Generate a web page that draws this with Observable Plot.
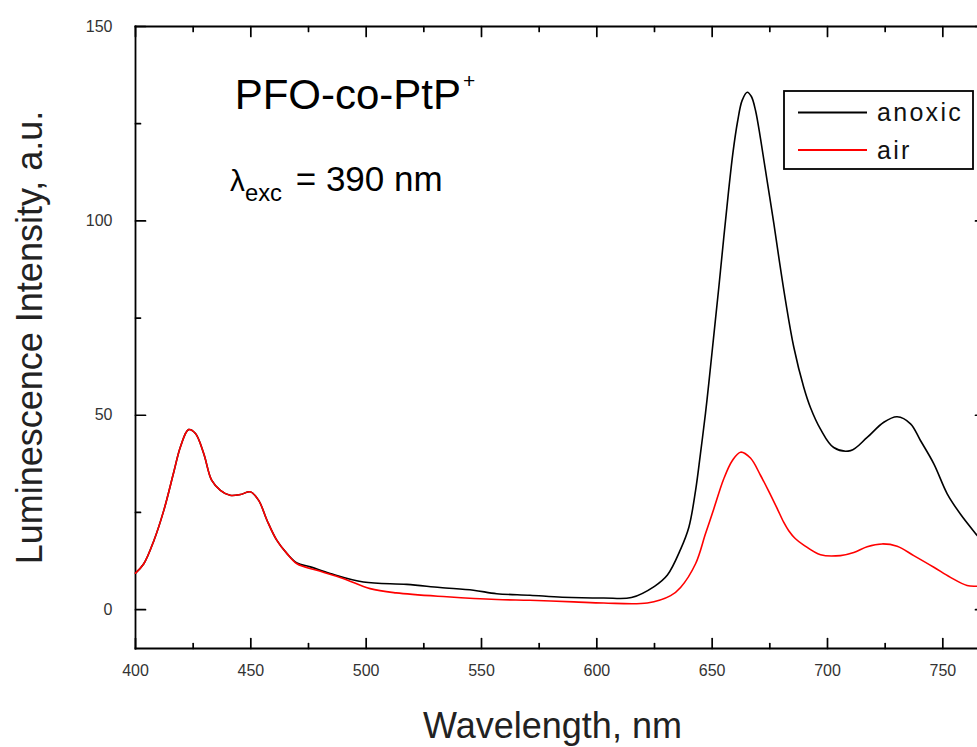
<!DOCTYPE html>
<html><head><meta charset="utf-8">
<script src="https://cdn.jsdelivr.net/npm/d3@7"></script>
<script src="https://cdn.jsdelivr.net/npm/@observablehq/plot@0.6"></script>
<style>
html,body{margin:0;padding:0;background:#fff;overflow:hidden}
#chart{position:relative;width:977px;height:747px;overflow:hidden}
#chart svg{overflow:visible}
#legend{position:absolute;left:0;top:0;pointer-events:none}
</style></head><body><div id="chart"></div>
<script>
// ---- data ----
const anoxicWavelength = [400,403.6,408,412.3,416.6,419.5,423,426,429.6,433,436.8,441,445.5,449.8,453.4,457,461.3,465.7,470,475.8,484.4,498.8,517.6,532,546.5,556.6,571,585,603,615,625,630.6,636.3,639.9,642.8,644.9,647.1,648.5,650.7,652.9,655,657,659,661,663,665.2,667,668.8,671,673.8,676.7,678.9,681.8,685.4,689.7,692.6,696.9,702.7,710,717.2,724.4,730.2,736,740.3,746.1,751.9,757.6,765,768.5];
const anoxicIntensity = [9.4,11.8,17.8,25.6,35.4,41.9,46.3,45.3,40.1,33.3,30.7,29.4,29.6,30.3,28.1,23,17.8,14.4,12,11,9.3,7.1,6.5,5.7,5,4.1,3.7,3.2,3.0,3.1,6,8.9,15.5,21.2,30.6,40,50.5,58,70.5,83,95.5,107,117.5,125.5,131,133.1,132,128.4,121,110.4,99.5,90.6,79.5,67.5,57.2,52,46.5,41.7,40.9,44.3,48.2,49.6,47.8,43.5,37.5,29.8,24.6,19.0,16.5];
const airWavelength = [400,403.6,408,412.3,416.6,419.5,423,426,429.6,433,436.8,441,445.5,449.8,453.4,457,461.3,465.7,470,478.6,490,501.7,513,535,556.6,571,590,603,621.9,632,636.3,642.8,647.1,650.7,655,658.7,662.3,666.6,671,674.5,678.2,681,683.2,686,689.7,697,705.6,711.4,717.2,723.7,730.2,737.4,746.1,753.3,760.5,765,768.5];
const airIntensity = [9.4,11.8,17.8,25.6,35.4,41.9,46.3,45.3,40.1,33.3,30.7,29.4,29.6,30.3,28.1,23,17.8,14.4,11.8,10.1,8,5.4,4.3,3.3,2.6,2.4,2.0,1.7,1.7,3.6,5.7,11.8,19.5,25.9,33.6,38.3,40.5,39.0,34.5,30.5,26,22.5,20.3,18.3,16.6,14.1,13.9,14.7,16.2,16.9,16.3,13.9,10.9,8.3,6.2,6.0,5.8];
const seriesNames = ["anoxic", "air"];
const seriesColors = ["#000000", "#ff0000"];
const xMajorTicks = [400,450,500,550,600,650,700,750];
const xMinorTicks = [425,475,525,575,625,675,725];
const yMajorTicks = [0,50,100,150];
const yMinorTicks = [25,75,125];
const xTitle = "Wavelength, nm";
const yTitle = "Luminescence Intensity, a.u.";
const noteX = [443, 441];
const noteY = [128.8, 107.8];
const noteText = ["PFO-co-PtP+", "λexc = 390 nm"];
const noteSize = [42, 35];

// ---- build tables ----
const anoxic = anoxicWavelength.map((w, i) => ({w, v: anoxicIntensity[i]}));
const air = airWavelength.map((w, i) => ({w, v: airIntensity[i]}));
const notes = noteText.map((t, i) => ({x: noteX[i], y: noteY[i], t, size: noteSize[i]}));

const font = "'Liberation Sans', Arial, sans-serif";
const tickShape = {draw(context, l) { context.moveTo(0, 0); context.lineTo(0, -l); }};
const tk = {anchor: "start", shape: tickShape, stroke: "#000", strokeWidth: 1.7};

const chart = Plot.plot({
  width: 977, height: 747,
  marginLeft: 135, marginRight: -8, marginTop: 26, marginBottom: 99,
  style: {fontFamily: font, background: "#fff", color: "#000", overflow: "visible"},
  x: {domain: [400, 768.5], axis: null},
  y: {domain: [-10, 150], axis: null},
  marks: [
    Plot.frame({anchor: "left", strokeWidth: 1.8}),
    Plot.frame({anchor: "top", strokeWidth: 1.8}),
    Plot.frame({anchor: "bottom", strokeWidth: 1.8}),
    Plot.frame({anchor: "right", strokeWidth: 1.8}),
    // inward ticks on all four sides
    Plot.vector(xMajorTicks, {x: d => d, frameAnchor: "bottom", rotate: 0, length: 10, ...tk}),
    Plot.vector(xMinorTicks, {x: d => d, frameAnchor: "bottom", rotate: 0, length: 5, ...tk}),
    Plot.vector(xMajorTicks, {x: d => d, frameAnchor: "top", rotate: 180, length: 10, ...tk}),
    Plot.vector(xMinorTicks, {x: d => d, frameAnchor: "top", rotate: 180, length: 5, ...tk}),
    Plot.vector(yMajorTicks, {y: d => d, frameAnchor: "left", rotate: 90, length: 10, ...tk}),
    Plot.vector(yMinorTicks, {y: d => d, frameAnchor: "left", rotate: 90, length: 5, ...tk}),
    Plot.vector(yMajorTicks, {y: d => d, frameAnchor: "right", rotate: -90, length: 10, ...tk}),
    Plot.vector(yMinorTicks, {y: d => d, frameAnchor: "right", rotate: -90, length: 5, ...tk}),
    // tick labels
    Plot.axisX(xMajorTicks, {anchor: "bottom", tickSize: 0, tickPadding: 16, fontSize: 16, fill: "#333", label: null}),
    Plot.axisY(yMajorTicks, {anchor: "left", tickSize: 0, tickPadding: 23, fontSize: 16, fill: "#333", label: null}),
    // series
    Plot.line(anoxic, {x: "w", y: "v", stroke: seriesColors[0], strokeWidth: 1.6, curve: "catmull-rom"}),
    Plot.line(air, {x: "w", y: "v", stroke: seriesColors[1], strokeWidth: 1.6, curve: "catmull-rom"}),
    // annotations
    Plot.text(notes, {x: "x", y: "y", text: "t", fontSize: d => d.size, textAnchor: "start", lineAnchor: "bottom", fill: "#000"}),
    // axis titles
    Plot.text([xTitle], {frameAnchor: "bottom", dx: -8, dy: 78, fontSize: 36, fill: "#222", lineAnchor: "middle", textAnchor: "middle"}),
    Plot.text([yTitle], {frameAnchor: "left", dx: -105, rotate: -90, fontSize: 36, fill: "#222", lineAnchor: "middle", textAnchor: "middle"})
  ]
});

// superscript / subscript in annotations
d3.select(chart).selectAll("text").each(function () {
  const el = d3.select(this);
  if (this.querySelector("tspan")) return;
  const t = this.textContent;
  const fs = parseFloat(el.attr("font-size") || getComputedStyle(this).fontSize) || 35;
  if (t === noteText[0]) {
    el.text(null);
    el.append("tspan").text(t.slice(0, -1));
    el.append("tspan").attr("font-size", fs * 0.5).attr("dx", 2).attr("dy", -fs * 0.5).text("+");
  } else if (t === noteText[1]) {
    el.text(null);
    el.append("tspan").attr("font-size", fs * 0.85).text("λ");
    el.append("tspan").attr("font-size", fs * 0.68).attr("dy", fs * 0.3).text("exc");
    el.append("tspan").attr("dx", 4).attr("dy", -fs * 0.3).text(t.slice(4));
  }
});

const root = document.getElementById("chart");
root.appendChild(chart);

// legend box inside the plot area, as in the reference
const lg = d3.select(root).append("svg").attr("id", "legend").attr("width", 977).attr("height", 747);
lg.append("rect").attr("x", 784).attr("y", 91).attr("width", 189).attr("height", 78)
  .attr("fill", "#fff").attr("stroke", "#000").attr("stroke-width", 1.8);
seriesNames.forEach((name, i) => {
  const yy = 112.5 + i * 37.5;
  lg.append("line").attr("x1", 798).attr("x2", 867).attr("y1", yy).attr("y2", yy)
    .attr("stroke", seriesColors[i]).attr("stroke-width", 1.8);
  lg.append("text").attr("x", 877).attr("y", yy + 8.5).attr("font-family", font)
    .attr("font-size", 25).attr("letter-spacing", 2.3).attr("fill", "#111").text(name);
});
</script>
</body></html>
